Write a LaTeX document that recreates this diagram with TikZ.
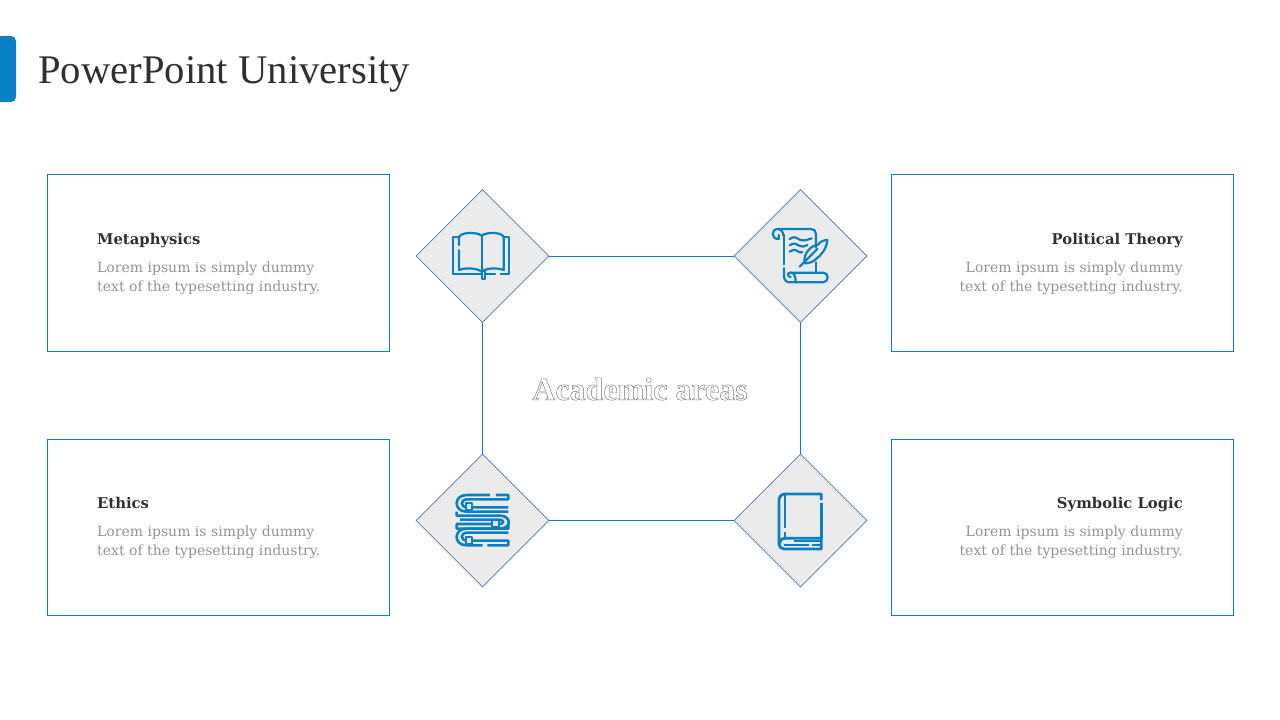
\documentclass[tikz,border=0pt]{standalone}
\usepackage{fontspec}
\setmainfont{Liberation Serif}
\newfontfamily\cardfont{DejaVu Serif}
\usetikzlibrary{shapes.geometric}
\definecolor{uniblue}{HTML}{0A7FC4}
\definecolor{edgeblue}{HTML}{4F79AE}
\definecolor{tilegray}{HTML}{EBEBEB}
\definecolor{titlegray}{HTML}{303030}
\definecolor{bodygray}{HTML}{939393}
\newcommand{\hollowtext}[1]{\special{pdf:code q 1 Tr 0.45 w 0.45 G}#1\special{pdf:code Q}}
\tikzset{
  cardbox/.style={draw=uniblue, line width=0.8pt, minimum width=342pt, minimum height=176.5pt, inner sep=0pt},
  tile/.style={diamond, draw=edgeblue, fill=tilegray, line width=0.8pt, minimum width=133pt, minimum height=133pt, inner sep=0pt},
  link/.style={draw=uniblue, line width=1pt},
  heading/.style={inner sep=0pt, font=\cardfont\fontsize{14.8}{17}\selectfont\bfseries, text=titlegray},
  bodytext/.style={inner sep=0pt, font=\cardfont\fontsize{14}{18.5}\selectfont, text=bodygray},
  icon/.style={x=0.3333pt, y=-0.3333pt, draw=uniblue, line width=2.2pt, line cap=round, line join=round},
}
\begin{document}
\begin{tikzpicture}[x=1pt, y=-1pt]
  \useasboundingbox (0,0) rectangle (1280,720);

  % header
  \fill[uniblue, rounded corners=5pt] (-8,36) rectangle (16,102);
  \node[anchor=base west, inner sep=0pt, text=titlegray, font=\fontsize{40.7}{46}\selectfont] (title) at (38,83) {PowerPoint University};

  % cards
  \node[cardbox] (metabox) at (218,262.75) {};
  \node[cardbox] (polibox) at (1062,262.75) {};
  \node[cardbox] (ethibox) at (218,527.5) {};
  \node[cardbox] (logibox) at (1062,527.5) {};

  % tiles
  \node[tile] (booktile) at (482.5,256) {};
  \node[tile] (scrolltile) at (800.5,256) {};
  \node[tile] (stacktile) at (482.5,520.5) {};
  \node[tile] (closedtile) at (800.5,520.5) {};

  \draw[link] (booktile) -- (scrolltile);
  \draw[link] (booktile) -- (stacktile);
  \draw[link] (stacktile) -- (closedtile);
  \draw[link] (scrolltile) -- (closedtile);

  \node[font=\fontsize{32}{36}\selectfont\bfseries] (centre) at (640,389) {\hollowtext{Academic areas}};

  % texts left
  \node[heading, anchor=base west] (metaname) at (97,244) {Metaphysics};
  \node[bodytext, anchor=west, align=left] (metatext) at (97,278) {Lorem ipsum is simply dummy\\text of the typesetting industry.};
  \node[heading, anchor=base west] (ethiname) at (97,508) {Ethics};
  \node[bodytext, anchor=west, align=left] (ethitext) at (97,542) {Lorem ipsum is simply dummy\\text of the typesetting industry.};

  % texts right
  \node[heading, anchor=base east] (poliname) at (1183,244) {Political Theory};
  \node[bodytext, anchor=east, align=right] (politext) at (1183,278) {Lorem ipsum is simply dummy\\text of the typesetting industry.};
  \node[heading, anchor=base east] (loginame) at (1183,508) {Symbolic Logic};
  \node[bodytext, anchor=east, align=right] (logitext) at (1183,542) {Lorem ipsum is simply dummy\\text of the typesetting industry.};

  % open book
  \begin{scope}[shift={(410,185)}, icon]
    \draw (147,155) -- (130,155) -- (130,268) -- (215,268);
    \draw (225,268) -- (255,268);
    \draw (272,268) -- (298,268) -- (298,155) -- (281,155);
    \draw (147,180) -- (147,158) .. controls (147,143) and (195,138) .. (215,152) .. controls (235,138) and (281,143) .. (281,158) -- (281,255) .. controls (262,248) and (232,248) .. (215,260) .. controls (198,248) and (165,248) .. (147,255) -- (147,196);
    \draw (215,152) -- (215,282) -- (225,282) -- (225,260);
  \end{scope}

  % scroll and feather
  \begin{scope}[shift={(730,185)}, icon]
    \draw (160,152) .. controls (160,138) and (150,132) .. (143,132) -- (243,132) .. controls (252,132) and (258,138) .. (258,147) -- (258,188);
    \draw (143,132) .. controls (133,132) and (128,140) .. (128,147) .. controls (128,156) and (135,162) .. (146,162) -- (146,150);
    \draw (162,150) -- (162,238);
    \draw (162,250) -- (162,277) .. controls (162,286) and (170,292) .. (180,292) -- (280,292) .. controls (288,292) and (293,284) .. (293,277) .. controls (293,270) and (288,263) .. (280,263) -- (180,263) .. controls (172,263) and (172,276) .. (182,276);
    \draw (180,263) .. controls (192,263) and (197,272) .. (197,292);
    \draw (258,232) -- (258,263);
    \draw (179,162) .. controls (190,155) and (195,155) .. (205,162) .. controls (215,168) and (225,168) .. (245,160);
    \draw (179,181) .. controls (190,174) and (195,174) .. (205,181) .. controls (212,186) and (222,186) .. (232,180);
    \draw (179,200) .. controls (190,193) and (195,193) .. (205,200) .. controls (209,203) and (213,203) .. (217,201);
    \draw (209,245) -- (262,192);
    \draw (224,235) .. controls (218,205) and (245,180) .. (263,180) .. controls (268,172) and (280,165) .. (292,165) .. controls (290,190) and (275,210) .. (258,222) .. controls (248,232) and (235,235) .. (224,235);
  \end{scope}

  % stack of books
  \begin{scope}[shift={(410,450)}, icon, line cap=butt, line width=2.6pt]
    \draw (240,135) -- (170,135) .. controls (130,135) and (130,185) .. (170,185) -- (295,185);
    \draw (258,135) -- (295,135) -- (295,148) -- (172,148) .. controls (150,148) and (150,172) .. (172,172) -- (295,172);
    \draw (140,185) -- (140,197) -- (270,197) .. controls (305,197) and (305,236) .. (270,236) -- (140,236) -- (140,222) -- (265,222) .. controls (285,222) and (285,209) .. (265,209) -- (150,209);
    \draw (295,222) -- (295,236) -- (170,236) .. controls (130,236) and (130,286) .. (170,286) -- (218,286);
    \draw (232,286) -- (295,286) -- (295,272) -- (172,272) .. controls (150,272) and (150,248) .. (172,248) -- (295,248);
    \draw[fill=tilegray, line width=2pt] (167,160) rectangle (187,180);
    \draw[fill=tilegray, line width=2pt] (247,211) rectangle (267,231);
    \draw[fill=tilegray, line width=2pt] (167,261) rectangle (187,281);
  \end{scope}

  % closed book
  \begin{scope}[shift={(730,450)}, icon, line cap=butt, line width=2.8pt]
    \draw (274,150) -- (274,132) -- (165,132) .. controls (155,132) and (147,140) .. (147,150) -- (147,282) .. controls (147,290) and (153,297) .. (162,297) -- (274,297) -- (274,265) -- (165,265) .. controls (155,265) and (149,272) .. (149,282);
    \draw (274,160) -- (274,265);
    \draw (165,132) -- (165,234);
    \draw (165,245) -- (165,265);
    \draw (192,273) -- (274,273);
    \draw (163,285) -- (238,285);
    \draw (246,285) -- (274,285);
  \end{scope}
\end{tikzpicture}
\end{document}
